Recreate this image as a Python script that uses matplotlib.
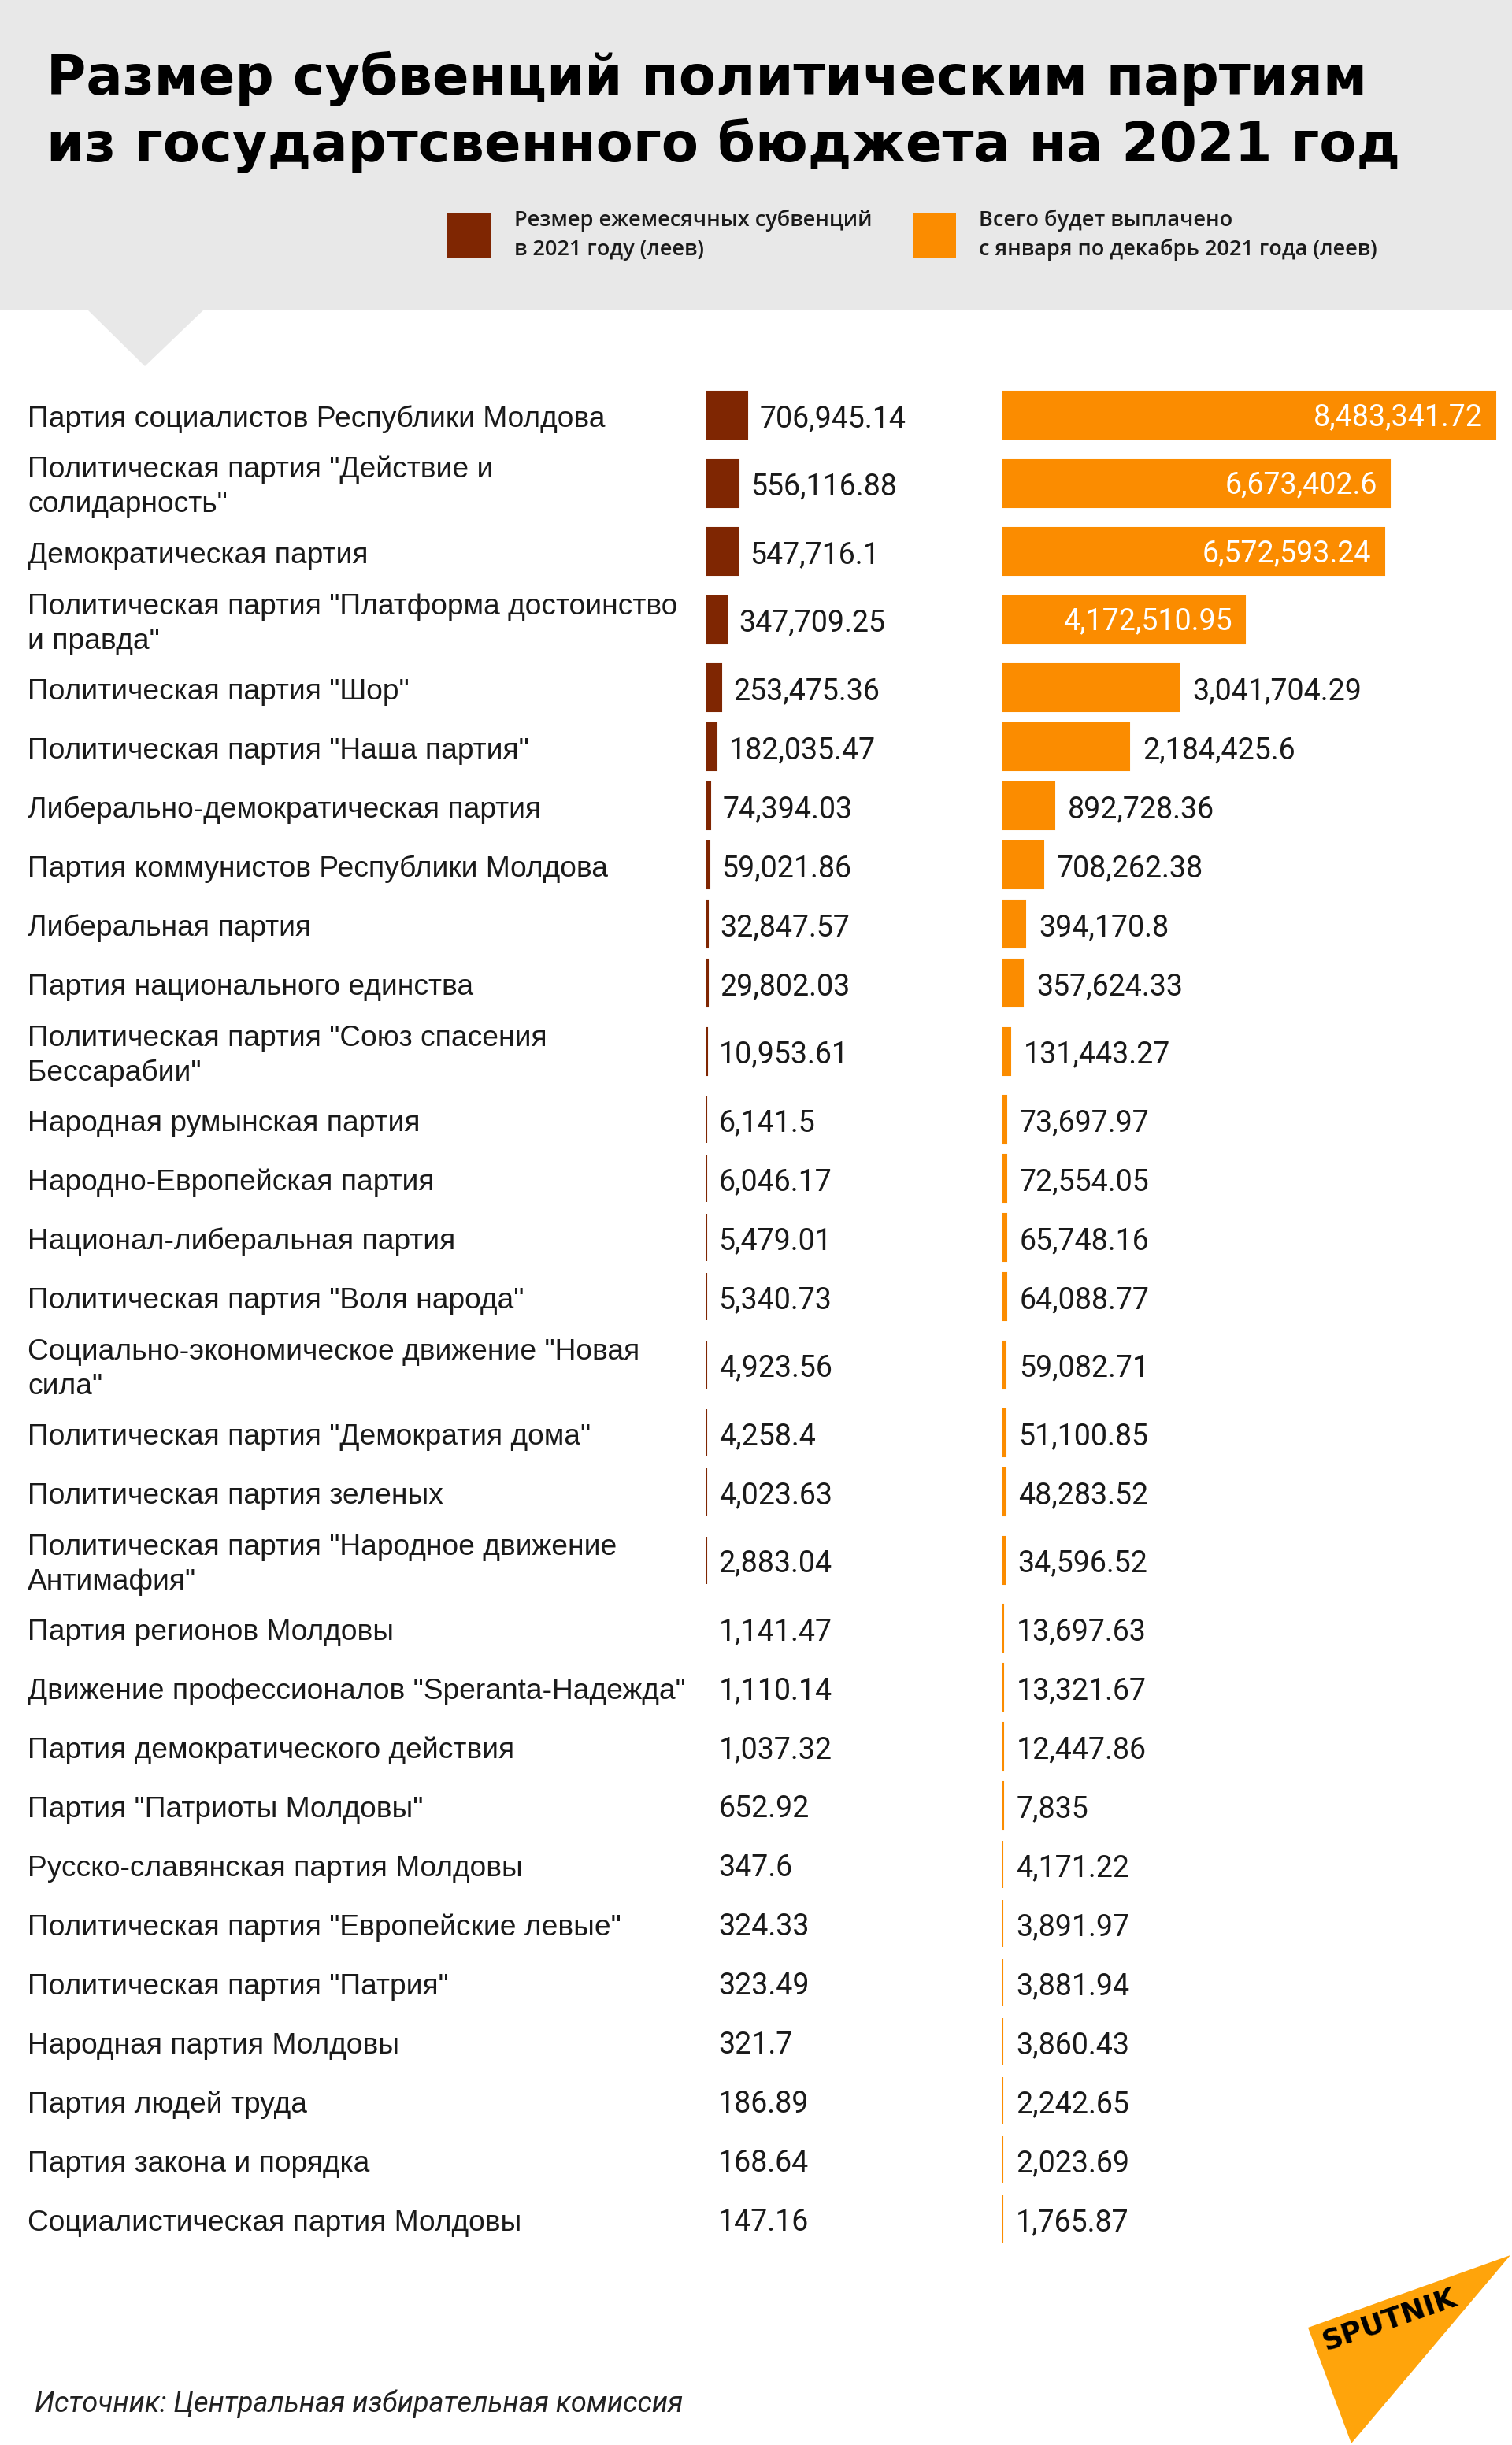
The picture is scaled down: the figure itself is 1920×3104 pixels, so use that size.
import numpy as np
import matplotlib
matplotlib.use('Agg')
import matplotlib.pyplot as plt
from matplotlib.patches import Rectangle, Polygon

partidos = [
    'Партия социалистов Республики Молдова',
    'Политическая партия "Действие и\nсолидарность"',
    'Демократическая партия',
    'Политическая партия "Платформа достоинство\nи правда"',
    'Политическая партия "Шор"',
    'Политическая партия "Наша партия"',
    'Либерально-демократическая партия',
    'Партия коммунистов Республики Молдова',
    'Либеральная партия',
    'Партия национального единства',
    'Политическая партия "Союз спасения\nБессарабии"',
    'Народная румынская партия',
    'Народно-Европейская партия',
    'Национал-либеральная партия',
    'Политическая партия "Воля народа"',
    'Социально-экономическое движение "Новая\nсила"',
    'Политическая партия "Демократия дома"',
    'Политическая партия зеленых',
    'Политическая партия "Народное движение\nАнтимафия"',
    'Партия регионов Молдовы',
    'Движение профессионалов "Speranta-Надежда"',
    'Партия демократического действия',
    'Партия "Патриоты Молдовы"',
    'Русско-славянская партия Молдовы',
    'Политическая партия "Европейские левые"',
    'Политическая партия "Патрия"',
    'Народная партия Молдовы',
    'Партия людей труда',
    'Партия закона и порядка',
    'Социалистическая партия Молдовы',
]

mensal = [706945.14, 556116.88, 547716.1, 347709.25, 253475.36, 182035.47,
          74394.03, 59021.86, 32847.57, 29802.03, 10953.61, 6141.5, 6046.17,
          5479.01, 5340.73, 4923.56, 4258.4, 4023.63, 2883.04, 1141.47,
          1110.14, 1037.32, 652.92, 347.6, 324.33, 323.49, 321.7, 186.89,
          168.64, 147.16]

total = [8483341.72, 6673402.6, 6572593.24, 4172510.95, 3041704.29, 2184425.6,
         892728.36, 708262.38, 394170.8, 357624.33, 131443.27, 73697.97,
         72554.05, 65748.16, 64088.77, 59082.71, 51100.85, 48283.52, 34596.52,
         13697.63, 13321.67, 12447.86, 7835, 4171.22, 3891.97, 3881.94,
         3860.43, 2242.65, 2023.69, 1765.87]

titulo = ['Размер субвенций политическим партиям',
          'из государтсвенного бюджета на 2021 год']
legenda_mes = ['Резмер ежемесячных субвенций', 'в 2021 году (леев)']
legenda_total = ['Всего будет выплачено', 'с января по декабрь 2021 года (леев)']
fonte = 'Источник: Центральная избирательная комиссия'

W, H = 1920, 3104
cor_mes = '#7f2602'
cor_total = '#fb8c00'
cinza = '#e8e8e8'
texto = '#1a1a1a'


def fmt(v):
    s = f'{v:,.2f}'
    return s.rstrip('0').rstrip('.')


# altura de cada linha (as de duas linhas de texto sao mais altas)
alturas = [98 if '\n' in p else 75 for p in partidos]
centros = []
y = 527 - alturas[0] / 2
for h in alturas:
    centros.append(y + h / 2)
    y += h

fig = plt.figure(figsize=(W / 100, H / 100), dpi=100)

# fundo em coordenadas de pixel
fundo = fig.add_axes([0, 0, 1, 1])
fundo.set_xlim(0, W)
fundo.set_ylim(H, 0)
fundo.axis('off')

fundo.add_patch(Rectangle((0, 0), W, 393, color=cinza, lw=0))
fundo.add_patch(Polygon([(110, 392), (260, 392), (184, 465)], color=cinza, lw=0))

for i, linha in enumerate(titulo):
    fundo.text(59, 120 + i * 85, linha, family='DejaVu Sans', fontweight='bold',
               fontsize=49.5, va='baseline', color='black')

fundo.add_patch(Rectangle((568, 271), 56, 56, color=cor_mes, lw=0))
fundo.add_patch(Rectangle((1160, 271), 54, 56, color=cor_total, lw=0))
for i, linha in enumerate(legenda_mes):
    fundo.text(653, 287 + i * 37, linha, family='Open Sans', fontweight='semibold',
               fontsize=19.5, va='baseline', color=texto)
for i, linha in enumerate(legenda_total):
    fundo.text(1243, 287 + i * 37, linha, family='Open Sans', fontweight='semibold',
               fontsize=19.5, va='baseline', color=texto)

# nomes dos partidos
for p, yc in zip(partidos, centros):
    linhas = p.split('\n')
    n = len(linhas)
    for i, l in enumerate(linhas):
        fundo.text(35, yc + 15 + (i - (n - 1) / 2) * 44, l, family='Liberation Sans',
                   fontsize=26.7, va='baseline', color=texto)

fundo.text(44, 3062, fonte, family='Roboto', style='italic', fontsize=26,
           va='baseline', color='#222222')

# logotipo
fundo.add_patch(Polygon([(1661, 2955), (1918, 2863), (1716, 3102)], color='#ffa40b', lw=0))
fundo.text(1764, 2945, 'SPUTNIK', rotation=19, rotation_mode='anchor', ha='center',
           va='center', family='DejaVu Sans', fontweight='bold', fontsize=26, color='black')

# barras: mesma escala (px por leu) nas duas colunas
ppu = 626 / max(total)
x_mes, x_tot = 897, 1273

ax_m = fig.add_axes([x_mes / W, 0, (x_tot - x_mes) / W, 1])
ax_m.set_xlim(0, (x_tot - x_mes) / ppu)
ax_t = fig.add_axes([x_tot / W, 0, (W - x_tot) / W, 1])
ax_t.set_xlim(0, (W - x_tot) / ppu)
for ax in (ax_m, ax_t):
    ax.set_ylim(H, 0)
    ax.axis('off')
    ax.patch.set_alpha(0)

ax_m.barh(centros, mensal, height=60, color=cor_mes, edgecolor=cor_mes,
          linewidth=[1.5 if v > 2000 else 0 for v in mensal])
ax_t.barh(centros, total, height=60, color=cor_total, edgecolor=cor_total, linewidth=1.5)

for v, yc in zip(mensal, centros):
    ax_m.annotate(fmt(v), xy=(v, yc + 15), xytext=(11, 0), textcoords='offset points',
                  ha='left', va='baseline', family='Roboto', fontsize=27, color=texto)

for v, yc in zip(total, centros):
    if v > 4e6:
        ax_t.annotate(fmt(v), xy=(v, yc + 13), xytext=(-12, 0), textcoords='offset points',
                      ha='right', va='baseline', family='Roboto', fontsize=27, color='white')
    else:
        ax_t.annotate(fmt(v), xy=(v, yc + 15), xytext=(12, 0), textcoords='offset points',
                      ha='left', va='baseline', family='Roboto', fontsize=27, color=texto)

plt.savefig('out.png', dpi=100)
plt.close()
